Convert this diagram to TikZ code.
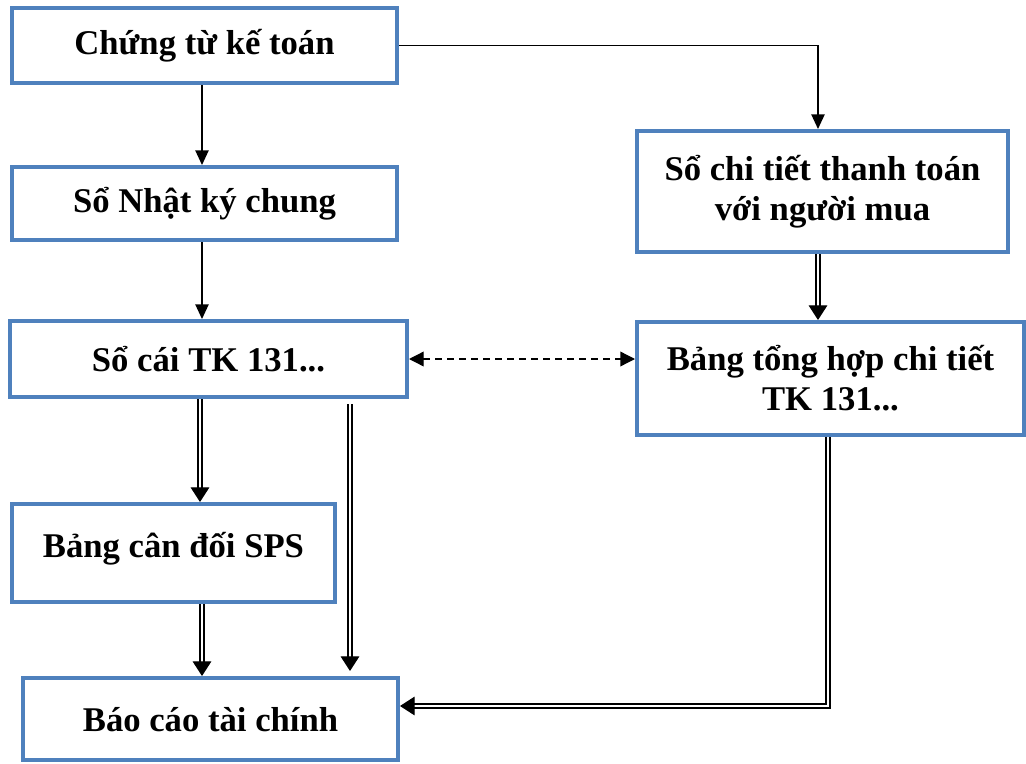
\documentclass[tikz,border=0pt]{standalone}
\usepackage{fontspec}
\setmainfont{Liberation Serif}
\usetikzlibrary{arrows.meta,calc}
\definecolor{boxblue}{RGB}{79,129,189}
\begin{document}
\begin{tikzpicture}[x=0.75pt, y=-0.75pt,
    box/.style={draw=boxblue, line width=3pt, fill=white, align=center,
                font=\fontsize{26}{30}\selectfont\bfseries, inner sep=0pt},
    arr/.style={-{Triangle[length=11pt,width=10pt]}, line width=1pt},
    dbl/.style={double, double distance=2.2pt, line width=0.9pt,
                -{Triangle[length=11pt,width=14pt]}},
    dsh/.style={{Triangle[length=11pt,width=11pt]}-{Triangle[length=11pt,width=11pt]},
                line width=1pt, dash pattern=on 5pt off 4pt}]

     \useasboundingbox (0,0) rectangle (1026,764);

     % left column
     \node[box, minimum width=288.75pt, minimum height=56.25pt] (ctu) at (204.5,45.5) {Chứng từ kế toán};
     \node[box, minimum width=288.75pt, minimum height=54.75pt] (nkc) at (204.5,203.5) {Sổ Nhật ký chung};
     \node[box, minimum width=297.75pt, minimum height=57pt] (soc) at (208.5,359) {Sổ cái TK 131...};
     \node[box, minimum width=242.25pt, minimum height=73.5pt, text depth=12pt] (cdps) at (173.5,553) {Bảng cân đối SPS};
     \node[box, minimum width=281.25pt, minimum height=61.5pt, text depth=0pt] (bctc) at (210.5,719) {Báo cáo tài chính};

     % right column
     \node[box, minimum width=278.25pt, minimum height=90.75pt] (sct) at (822.5,191.5) {Sổ chi tiết thanh toán\\với người mua};
     \node[box, minimum width=290.25pt, minimum height=84.75pt] (bth) at (830.5,378.5) {Bảng tổng hợp chi tiết\\TK 131...};

     % single arrows
     \draw[arr] (ctu.east) -| ($(sct.north)+(-4.5,0)$);
     \draw[arr] ($(ctu.south)+(-2.5,0)$) -- ($(nkc.north)+(-2.5,0)$);
     \draw[arr] ($(nkc.south)+(-2.5,0)$) -- ($(soc.north)+(-6.5,0)$);

     % dashed link
     \draw[dsh] (soc.east) -- (soc.east -| bth.west);

     % double arrows
     \draw[dbl] ($(sct.south)+(-4.5,0)$) -- ($(bth.north)+(-12.5,0)$);
     \draw[dbl] ($(soc.south)+(-8.5,0)$) -- ($(cdps.north)+(26.5,0)$);
     \draw[dbl] ($(cdps.south)+(28.5,0)$) -- ($(bctc.north)+(-8.5,0)$);
     \coordinate (sc1) at ($(soc.south)+(141.5,5)$);
     \coordinate (bc1) at ($(bctc.north)+(139.5,-5)$);
     \draw[dbl] (sc1) -- (bc1);
     \draw[dbl] ($(bth.south)+(-2.5,0)$) |- ($(bctc.east)+(0,-13)$);

\end{tikzpicture}
\end{document}
